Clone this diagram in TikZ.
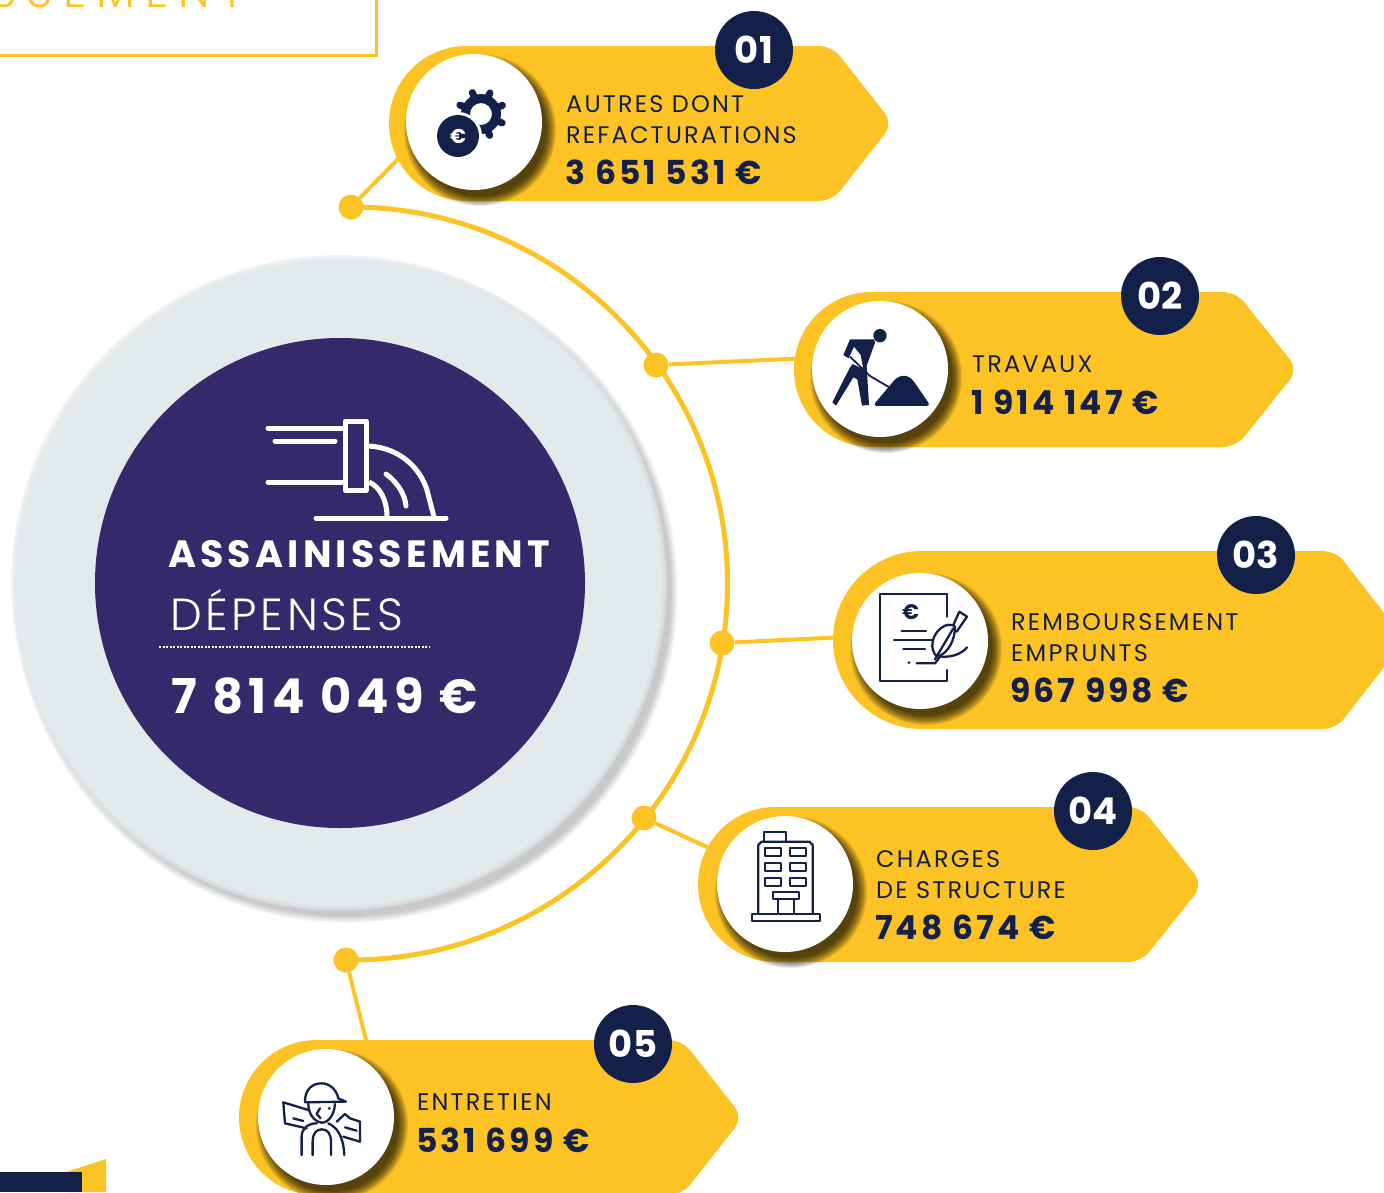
\documentclass[tikz,border=0pt]{standalone}
\usepackage{fontspec}
\setmainfont{Poppins}
\newfontfamily\labf[LetterSpace=9]{Poppins}
\newfontfamily\amtf[LetterSpace=9]{Poppins}
\newfontfamily\headf[LetterSpace=11]{Poppins}
\newfontfamily\depf[LetterSpace=8]{Poppins Light}
\newfontfamily\topf[LetterSpace=22]{Poppins Light}
\definecolor{tagyellow}{HTML}{FDC325}
\definecolor{navy}{HTML}{13204A}
\definecolor{purp}{HTML}{35296B}
\definecolor{pale}{HTML}{E3EAEB}
\tikzset{
  labeltext/.style={anchor=base west,inner sep=0pt,text=navy,font=\fontsize{24}{24}\selectfont\labf},
  amounttext/.style={anchor=base west,inner sep=0pt,text=navy,font=\fontsize{33}{33}\selectfont\amtf\bfseries},
  badge/.style={circle,fill=navy,minimum size=78pt,inner sep=0pt,text=white,font=\fontsize{37}{37}\selectfont\bfseries},
  disk/.style={circle,fill=white,minimum size=136pt,inner sep=0pt},
  dotnode/.style={circle,fill=tagyellow,minimum size=25pt,inner sep=0pt},
  wire/.style={draw=tagyellow,line width=4pt},
  icon/.style={draw=navy,line width=2.3pt,line cap=round,line join=round},
  pipe/.style={draw=white,line width=5pt,line cap=round,line join=round},
}
% id, left, top, bottom, shoulder, point, disk x, disk y
\newcommand\tagbody[8]{%
  \pgfmathsetmacro\tcx{#2+(#4-#3)/2}%
  \pgfmathsetmacro\tcy{(#3+#4)/2}%
  \pgfmathsetmacro\trad{(#4-#3)/2}%
  \fill[tagyellow] (\tcx,\tcy) circle[radius=\trad pt];
  \fill[tagyellow] (\tcx,#3) [rounded corners=13pt] -- (#5,#3) -- (#6,\tcy) -- (#5,#4) [sharp corners] -- (\tcx,#4) -- cycle;
  \foreach \rr in {76,75,74,73,72,71,70,69,68,67,66}{%
    \fill[black,opacity=.09] (#7+6,#8+8) circle[radius=\rr pt];
  }
  \node[disk] (disk#1) at (#7,#8) {};
}
\begin{document}
\begin{tikzpicture}[x=1pt,y=-1pt]
\useasboundingbox (0,0) rectangle (1384,1192);
\clip (0,0) rectangle (1384,1192);
\fill[white] (0,0) rectangle (1384,1192);

% top-left box
\draw[draw=tagyellow,line width=3pt] (-5,55) -- (376,55) -- (376,-5);
\node[anchor=base west,inner sep=0pt,text=tagyellow,font=\fontsize{46}{46}\selectfont\topf] (toptitle) at (-10,7) {SSEMENT};

% bottom-left shape
\fill[tagyellow] (66,1172) -- (106,1159) -- (106,1192) -- (66,1192) -- cycle;
\fill[navy] (0,1172) rectangle (82,1192);

% big disk
\foreach \rr in {332,331,330,329,328,327,326,325}{%
  \fill[black,opacity=.028] (346,591) circle[radius=\rr pt];
}
\foreach \rr in {328,327,326,325}{%
  \fill[pale,opacity=.35] (339,583) circle[radius=\rr pt];
}
\node[circle,fill=pale,minimum size=646pt,inner sep=0pt] (bigdisk) at (339,583) {};
\node[circle,fill=purp,minimum size=490pt,inner sep=0pt] (core) at (340,583) {};

% pipe icon
\draw[pipe] (268,428) -- (343,428);
\draw[pipe] (275,441) -- (335,441);
\draw[pipe] (268,482) -- (343,482);
\draw[pipe] (345,421) rectangle (366,490);
\draw[pipe,line cap=butt] (369,446) .. controls (400,448) and (420,468) .. (427,490) -- (434,517);
\draw[pipe,line cap=butt] (369,482) .. controls (380,487) and (387,500) .. (387,517);
\draw[pipe] (386,474) .. controls (397,482) and (405,494) .. (406,506);
\draw[pipe] (316,518) -- (446,518);

\node[anchor=base west,inner sep=0pt,text=white,font=\fontsize{38}{38}\selectfont\headf\bfseries] (titleA) at (168,567) {ASSAINISSEMENT};
\node[anchor=base west,inner sep=0pt,text=white,font=\fontsize{45}{45}\selectfont\depf] (titleB) at (170,630) {DÉPENSES};
\draw[white,line width=2pt,dash pattern=on 2pt off 1.5pt] (159,647) -- (429,647);
\node[anchor=base west,inner sep=0pt,text=white,font=\fontsize{48}{48}\selectfont\headf\bfseries] (titleC) at (171,713) {7 814 049 €};

% wire ends
\coordinate (endA) at (405,152);
\coordinate (endB) at (810,358);
\coordinate (endC) at (845,637);
\coordinate (endD) at (720,853);
\coordinate (endE) at (368,1048);

% arc and dots
\node[dotnode] (dotA) at (351,207) {};
\node[dotnode] (dotB) at (656,365) {};
\node[dotnode] (dotC) at (722,643) {};
\node[dotnode] (dotD) at (644,818) {};
\node[dotnode] (dotE) at (346,960) {};
\draw[draw=tagyellow,line width=5pt] (dotA.center) arc[start angle=90,end angle=-90,radius=376.5pt];
\draw[wire] (dotA) -- (endA);
\draw[wire] (dotB) -- (endB);
\draw[wire] (dotC) -- (endC);
\draw[wire] (dotD) -- (endD);
\draw[wire] (dotE) -- (endE);

% tags
\tagbody{1}{389}{46}{201}{832}{893}{474}{122}
\tagbody{2}{794}{292}{447}{1236}{1298}{880}{369}
\tagbody{3}{833}{551}{729}{1336}{1405}{920}{641}
\tagbody{4}{698}{807}{962}{1141}{1203}{785}{884}
\tagbody{5}{239}{1040}{1195}{682}{743}{326}{1117}

% badges
\node[badge] (badgeA) at (754,50) {01};
\node[badge] (badgeB) at (1160,296) {02};
\node[badge] (badgeC) at (1256,555) {03};
\node[badge] (badgeD) at (1093,811) {04};
\node[badge] (badgeE) at (633,1044) {05};

% labels
\node[labeltext] (la1) at (566,112) {AUTRES DONT};
\node[labeltext] (la2) at (566,143) {REFACTURATIONS};
\node[amounttext] (la3) at (565,184) {3 651 531 €};
\node[labeltext] (lb1) at (972,372) {TRAVAUX};
\node[amounttext] (lb2) at (971,414) {1 914 147 €};
\node[labeltext] (lc1) at (1011,630) {REMBOURSEMENT};
\node[labeltext] (lc2) at (1011,661) {EMPRUNTS};
\node[amounttext] (lc3) at (1010,702) {967 998 €};
\node[labeltext] (ld1) at (876,867) {CHARGES};
\node[labeltext] (ld2) at (876,898) {DE STRUCTURE};
\node[amounttext] (ld3) at (875,939) {748 674 €};
\node[labeltext] (le1) at (417,1110) {ENTRETIEN};
\node[amounttext] (le2) at (416,1152) {531 699 €};

% icon 1: gear and euro
\foreach \a in {0,45,...,315}{%
  \draw[navy,line width=7pt,line cap=round] (481,114) ++(\a+22:17pt) -- ++(\a+22:6pt);
}
\fill[navy,even odd rule] (481,114) circle[radius=20pt] (481,114) circle[radius=11pt];
\fill[white] (458,136) circle[radius=24pt];
\node[circle,fill=navy,minimum size=42pt,inner sep=0pt,text=white,font=\fontsize{20}{20}\selectfont\bfseries] (euroA) at (458,136) {€};

% icon 2: digger (zoom coordinates)
\begin{scope}[shift={(800,290)},x=.3333pt,y=-.3333pt]
  \fill[navy] (240,137) circle[radius=6.7pt];
  \fill[navy,line join=round] (150,148) -- (222,148) -- (225,158) -- (200,228) -- (207,345) -- (186,347) -- (172,268) -- (160,262) -- (108,347) -- (97,337) -- (150,232) -- (158,222) -- (190,238) -- (182,195) -- (162,170) -- (146,205) -- (130,195) -- cycle;
  \draw[navy,line width=1.8pt] (150,200) -- (210,258) -- (268,292);
  \fill[navy,rounded corners=4pt] (218,348) -- (290,262) -- (315,255) -- (335,265) -- (392,348) -- cycle;
\end{scope}

% icon 3: document (zoom coordinates)
\begin{scope}[shift={(840,560)},x=.3333pt,y=-.3333pt]
  \draw[icon] (320,102) -- (120,102) -- (120,362) -- (320,362) -- (320,330);
  \draw[icon] (320,102) -- (320,170);
  \node[inner sep=0pt,text=navy,font=\fontsize{21}{21}\selectfont\bfseries] (euroC) at (212,155) {€};
  \draw[icon] (185,212) -- (258,212);
  \draw[icon] (162,240) -- (280,240);
  \draw[icon] (190,268) -- (255,268);
  \fill[navy] (207,308) circle[radius=1.5pt];
  \draw[icon] (230,310) -- (285,310) -- (300,290);
  \draw[icon,fill=white] (292,290) .. controls (265,270) and (275,215) .. (315,197) .. controls (330,192) and (340,195) .. (345,200) .. controls (345,240) and (325,280) .. (292,290) -- cycle;
  \draw[icon] (285,298) -- (340,205);
  \draw[icon] (340,195) -- (358,155) -- (381,170) -- (350,215);
  \draw[icon] (305,290) .. controls (335,292) and (365,282) .. (381,262);
\end{scope}

% icon 4: building (zoom coordinates)
\begin{scope}[shift={(700,810)},x=.3333pt,y=-.3333pt]
  \draw[icon] (192,95) -- (192,66) -- (258,66) -- (258,95);
  \draw[icon] (175,312) -- (175,105) -- (185,95) -- (328,95) -- (338,105) -- (338,312);
  \foreach \yy in {115,160,205}{%
    \draw[icon] (195,\yy) rectangle (243,\yy+24);
    \draw[icon] (270,\yy) rectangle (318,\yy+24);
  }
  \draw[icon] (218,247) rectangle (296,266);
  \draw[icon] (233,266) -- (233,312);
  \draw[icon] (282,266) -- (282,312);
  \draw[icon] (155,312) rectangle (360,333);
\end{scope}

% icon 5: road worker (zoom coordinates)
\begin{scope}[shift={(0,1040)},x=.3333pt,y=-.3333pt]
  \draw[icon] (915,185) .. controls (915,150) and (935,130) .. (965,130) .. controls (990,130) and (1010,150) .. (1015,175) -- (1038,185) -- (915,187);
  \draw[icon] (925,190) .. controls (925,225) and (945,245) .. (965,248) .. controls (985,248) and (1003,225) .. (1005,192);
  \draw[icon] (960,205) -- (950,222) -- (962,235);
  \fill[navy] (988,205) circle[radius=1.6pt];
  \draw[icon] (925,210) -- (850,187) -- (855,250) -- (920,265);
  \draw[icon] (880,235) -- (910,243);
  \draw[icon] (1010,245) -- (1035,222) -- (1050,235) -- (1080,245) -- (1080,305) -- (1030,290);
  \draw[icon] (1035,262) -- (1070,272);
  \draw[icon] (905,345) -- (905,290) .. controls (905,265) and (925,250) .. (950,250);
  \draw[icon] (938,345) -- (938,305) .. controls (938,280) and (950,268) .. (965,268) .. controls (982,268) and (993,280) .. (993,305) -- (993,345);
  \draw[icon] (985,250) .. controls (1010,262) and (1030,285) .. (1033,345);
\end{scope}
\end{tikzpicture}
\end{document}
